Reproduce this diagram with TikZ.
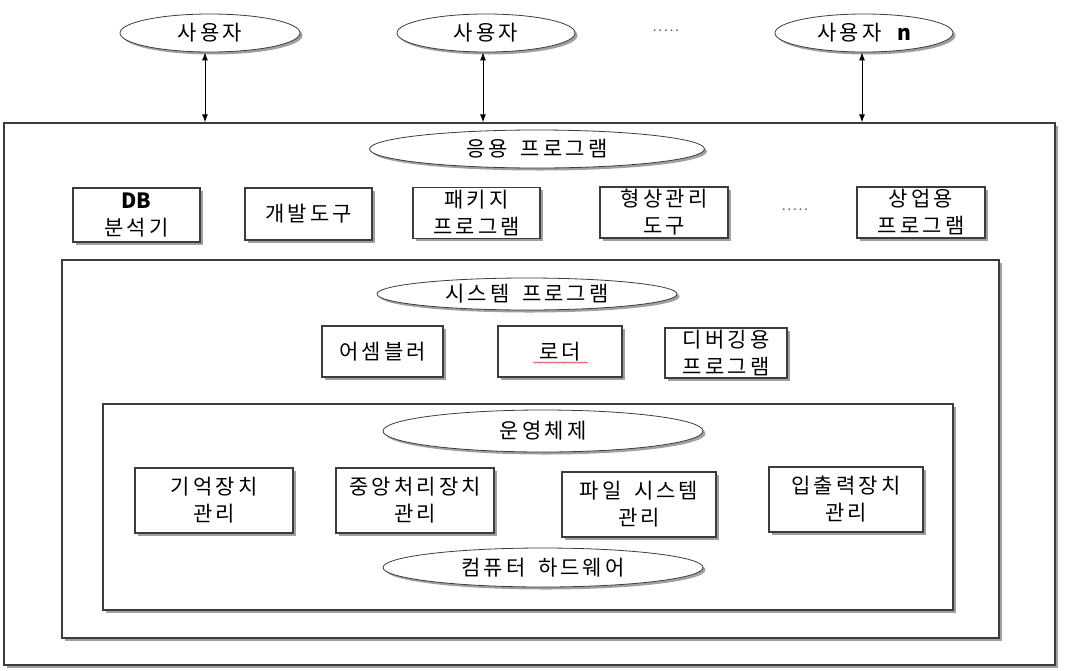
\documentclass[tikz,border=0pt]{standalone}
\usepackage{fontspec}
\setmainfont{Noto Sans CJK KR}[LetterSpace=15, WordSpace=1.6]
\usepackage{tikz}
\usetikzlibrary{arrows.meta, shapes.geometric, shadows, decorations.pathmorphing}
\definecolor{edge}   {RGB}{60, 60, 60}
\definecolor{shade}  {RGB}{160, 160, 160}
\definecolor{spell}  {RGB}{220, 40, 40}
\newcommand{\latin}[1]{{\addfontfeatures{LetterSpace=0}\textbf{#1}}}

\tikzset{
  shadowed/.style={draw=edge, fill=white,
    drop shadow={shadow xshift=2.5pt, shadow yshift=-2.5pt, fill=shade, opacity=1}},
  layerbox/.style={shadowed, line width=1.3pt, inner sep=0pt},
  progbox/.style={shadowed, line width=1.1pt, align=center, inner sep=0pt},
  layername/.style={shadowed, ellipse, line width=0.8pt, inner sep=0pt},
  link/.style={{Latex[length=8pt,width=6pt]}-{Latex[length=8pt,width=6pt]}, line width=0.9pt, black},
  moredots/.style={text=black!60, font=\fontsize{14}{16}\selectfont\addfontfeatures{LetterSpace=12}}
}

\begin{document}
\begin{tikzpicture}[x=1pt, y=-1pt, font=\fontsize{21}{27}\selectfont]
  \useasboundingbox (0,0) rectangle (1076,670);
  % nested layers
  \node[layerbox, minimum width=1051pt, minimum height=542pt] (hw) at (529.5,394) {};
  \node[layerbox, minimum width=937pt, minimum height=378pt] (sysp) at (530.5,449) {};
  \node[layerbox, minimum width=850pt, minimum height=206pt] (os) at (528,507) {};
  % users
  \node[layername, minimum width=180pt, minimum height=38pt] (u1) at (210,33) {사용자};
  \node[layername, minimum width=178pt, minimum height=38pt] (u2) at (486,33) {사용자};
  \node[layername, minimum width=178pt, minimum height=38pt] (u3) at (864,33) {사용자 \latin{n}};
  \node[moredots] (udots) at (666,31) {.....};
  \draw[link] ([xshift=-5pt]u1.south) -- ([xshift=-5pt]u1.south |- hw.north);
  \draw[link] ([xshift=-3pt]u2.south) -- ([xshift=-3pt]u2.south |- hw.north);
  \draw[link] ([xshift=-2pt]u3.south) -- ([xshift=-2pt]u3.south |- hw.north);
  % application programs
  \node[layername, minimum width=335pt, minimum height=38pt] (app) at (537,149) {응용 프로그램};
  \node[progbox, minimum width=127pt, minimum height=54pt] (db) at (136.5,215) {\latin{DB}\\분석기};
  \node[progbox, minimum width=127pt, minimum height=52pt] (dev) at (308.5,214) {개발도구};
  \node[progbox, minimum width=127pt, minimum height=51pt] (pkg) at (476.5,213) {패키지\\프로그램};
  \node[progbox, minimum width=128pt, minimum height=51pt] (scm) at (664,212.5) {형상관리\\도구};
  \node[moredots] (adots) at (795,210) {.....};
  \node[progbox, minimum width=128pt, minimum height=51pt] (biz) at (921,212.5) {상업용\\프로그램};
  % system programs
  \node[layername, minimum width=300pt, minimum height=32pt] (sys) at (527,294) {시스템 프로그램};
  \node[progbox, minimum width=121pt, minimum height=51pt] (asm) at (382.5,351.5) {어셈블러};
  \node[progbox, minimum width=124pt, minimum height=51pt] (ld) at (560,351.5) {로더};
  \node[progbox, minimum width=122pt, minimum height=50pt] (dbg) at (726,353) {디버깅용\\프로그램};
  \draw[spell, line width=0.5pt, decorate, decoration={snake, amplitude=0.7pt, segment length=3pt}]
    ([xshift=-27pt, yshift=-11pt]ld.center) -- ([xshift=28pt, yshift=-11pt]ld.center);
  % operating system
  \node[layername, minimum width=320pt, minimum height=42pt] (osn) at (543,431) {운영체제};
  \node[progbox, minimum width=158pt, minimum height=65pt] (mem) at (214,500.5) {기억장치\\관리};
  \node[progbox, minimum width=158pt, minimum height=65pt] (cpu) at (415,500.5) {중앙처리장치\\관리};
  \node[progbox, minimum width=154pt, minimum height=65pt] (fs) at (639,504.5) {파일 시스템\\관리};
  \node[progbox, minimum width=154pt, minimum height=65pt] (io) at (846,499.5) {입출력장치\\관리};
  \node[layername, minimum width=320pt, minimum height=39pt] (hwn) at (543,567.5) {컴퓨터 하드웨어};
\end{tikzpicture}
\end{document}
